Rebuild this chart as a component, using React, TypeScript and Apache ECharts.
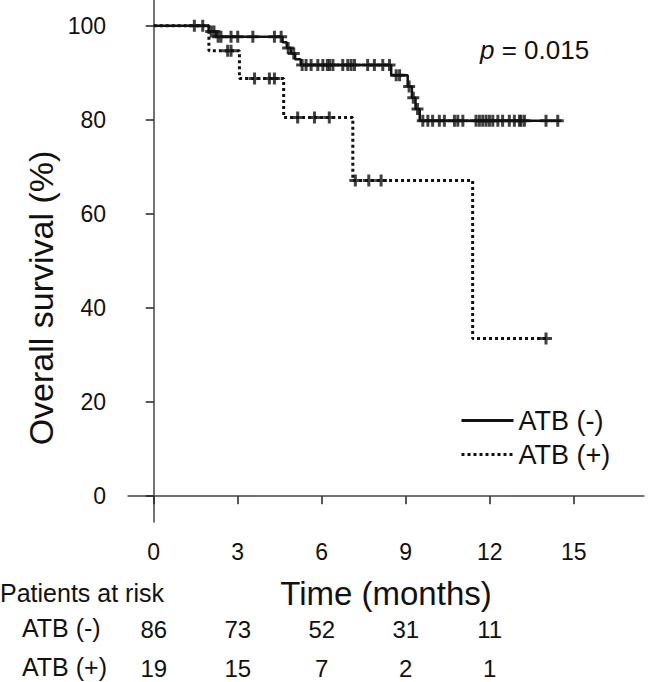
import React, { useEffect, useRef } from "react";
import * as echarts from "echarts";

// ATB (-) Kaplan–Meier curve: event times (months) and survival (%) after each step
const negTimes = [0, 1.96, 2.23, 4.6, 4.75, 4.9, 5.05, 5.25, 8.48, 9.07, 9.22, 9.35, 9.5, 14.55];
const negSurv = [100, 98.8, 97.7, 96.5, 95.3, 94.1, 92.9, 91.7, 89.5, 87.1, 84.7, 82.3, 79.8, 79.8];
// ATB (-) censored times
const negCensor = [
  1.45, 1.75, 2.05, 2.15, 2.3, 2.4, 2.76, 3.0, 3.54, 4.31, 4.55, 4.8, 5.0, 5.3, 5.44, 5.62,
  5.86, 6.04, 6.2, 6.28, 6.4, 6.75, 6.93, 7.05, 7.17, 7.64, 7.88, 8.18, 8.42, 8.66, 8.78,
  9.12, 9.27, 9.42, 9.61, 9.79, 9.96, 10.2, 10.38, 10.74, 10.86, 11.04, 11.51, 11.63, 11.75,
  11.87, 11.99, 12.11, 12.29, 12.46, 12.7, 12.88, 13.06, 13.12, 13.24, 14.01, 14.43,
];

// ATB (+) curve
const posTimes = [0, 1.97, 3.06, 4.64, 7.11, 11.39, 14.1];
const posSurv = [100, 94.7, 88.8, 80.5, 67.1, 33.5, 33.5];
const posCensor = [2.64, 2.76, 3.6, 4.13, 4.31, 5.14, 5.74, 6.27, 7.2, 7.68, 8.12, 14.01];

// axes
const xTicks = [0, 3, 6, 9, 12, 15];
const yTicks = [0, 20, 40, 60, 80, 100];

// numbers at risk
const riskTimes = [0, 3, 6, 9, 12];
const riskNeg = [86, 73, 52, 31, 11];
const riskPos = [19, 15, 7, 2, 1];

const groupNames = ["ATB (-)", "ATB (+)"];
const pValue = "0.015";

const FONT = "'Liberation Sans', Arial, Helvetica, sans-serif";
const INK = "#111";

function survAt(times: number[], surv: number[], t: number) {
  let s = surv[0];
  for (let i = 0; i < times.length; i++) if (times[i] <= t) s = surv[i];
  return s;
}

const PLUS = "path://M4.5,0h3v4.5h4.5v3h-4.5v4.5h-3v-4.5h-4.5v-3h4.5z";

export default function App() {
  const ref = useRef<HTMLDivElement>(null);
  useEffect(() => {
    if (!ref.current) return;
    const chart = echarts.init(ref.current, undefined, { renderer: "svg" });
    const xMin = -0.92;
    const xMax = 17.51;
    const riskAxis = (vals: number[], offset: number) => ({
      type: "value",
      gridIndex: 0,
      position: "bottom",
      min: xMin,
      max: xMax,
      offset,
      axisLine: { show: false },
      axisTick: { show: false },
      splitLine: { show: false },
      axisLabel: {
        customValues: riskTimes,
        margin: 0,
        fontSize: 24,
        fontFamily: FONT,
        color: INK,
        formatter: (v: number) => {
          const i = riskTimes.indexOf(v);
          return i >= 0 ? String(vals[i]) : "";
        },
      },
    });
    chart.setOption({
      animation: false,
      backgroundColor: "#fff",
      grid: { left: 128, top: 0, width: 516, height: 522 },
      xAxis: [
        {
          type: "value",
          min: xMin,
          max: xMax,
          name: "Time (months)",
          nameLocation: "middle",
          nameGap: 55,
          nameTextStyle: { fontSize: 33, fontFamily: FONT, color: INK },
          axisLine: { lineStyle: { color: "#444", width: 1.5 } },
          axisTick: { customValues: xTicks, length: 8, lineStyle: { color: "#222", width: 1.5 } },
          axisLabel: { customValues: xTicks, margin: 18, fontSize: 23, fontFamily: FONT, color: INK },
          splitLine: { show: false },
        },
        riskAxis(riskNeg, 95),
        riskAxis(riskPos, 134),
      ],
      yAxis: {
        type: "value",
        min: -5.5,
        max: 105.5,
        axisLine: { lineStyle: { color: "#444", width: 1.5 } },
        axisTick: { customValues: yTicks, length: 8, lineStyle: { color: "#222", width: 1.5 } },
        axisLabel: { customValues: yTicks, margin: 22, fontSize: 23, fontFamily: FONT, color: INK },
        splitLine: { show: false },
      },
      legend: {
        data: groupNames,
        orient: "vertical",
        left: 455,
        top: 402,
        itemWidth: 52,
        itemHeight: 14,
        itemGap: 7,
        itemStyle: { opacity: 0 },
        lineStyle: { width: 3 },
        textStyle: { fontSize: 27, fontFamily: FONT, color: INK },
      },
      graphic: [
        {
          type: "text",
          x: 41,
          y: 298,
          rotation: Math.PI / 2,
          style: {
            text: "Overall survival (%)",
            fontSize: 34,
            fontFamily: FONT,
            fill: INK,
            align: "center",
            verticalAlign: "middle",
          },
        },
        {
          type: "text",
          x: 0,
          y: 593,
          style: {
            text: "Patients at risk",
            fontSize: 25,
            fontFamily: FONT,
            fill: INK,
            verticalAlign: "middle",
          },
        },
        {
          type: "text",
          x: 22,
          y: 628,
          style: { text: groupNames[0], fontSize: 25, fontFamily: FONT, fill: INK, verticalAlign: "middle" },
        },
        {
          type: "text",
          x: 22,
          y: 667,
          style: { text: groupNames[1], fontSize: 25, fontFamily: FONT, fill: INK, verticalAlign: "middle" },
        },
        {
          type: "text",
          x: 480,
          y: 50,
          style: {
            text: "{i|p} = " + pValue,
            fontSize: 26,
            fontFamily: FONT,
            fill: INK,
            verticalAlign: "middle",
            rich: { i: { fontStyle: "italic", fontSize: 26, fontFamily: FONT, fill: INK } },
          },
        },
      ],
      series: [
        {
          name: groupNames[0],
          type: "line",
          step: "end",
          symbol: "none",
          data: negTimes.map((t, i) => [t, negSurv[i]]),
          lineStyle: { color: INK, width: 2.5 },
          itemStyle: { color: INK },
        },
        {
          name: groupNames[1],
          type: "line",
          step: "end",
          symbol: "none",
          data: posTimes.map((t, i) => [t, posSurv[i]]),
          lineStyle: { color: INK, width: 3, type: [3, 3], cap: "butt" },
          itemStyle: { color: INK },
        },
        {
          name: "censor-neg",
          type: "scatter",
          symbol: PLUS,
          symbolSize: 12,
          data: negCensor.map((t) => [t, survAt(negTimes, negSurv, t)]),
          itemStyle: { color: INK },
        },
        {
          name: "censor-pos",
          type: "scatter",
          symbol: PLUS,
          symbolSize: 12,
          data: posCensor.map((t) => [t, survAt(posTimes, posSurv, t)]),
          itemStyle: { color: INK },
        },
      ],
    });
    return () => chart.dispose();
  }, []);
  return (
    <div
      ref={ref}
      style={{ position: "fixed", left: 0, top: 0, width: 648, height: 682, background: "#fff" }}
    />
  );
}
